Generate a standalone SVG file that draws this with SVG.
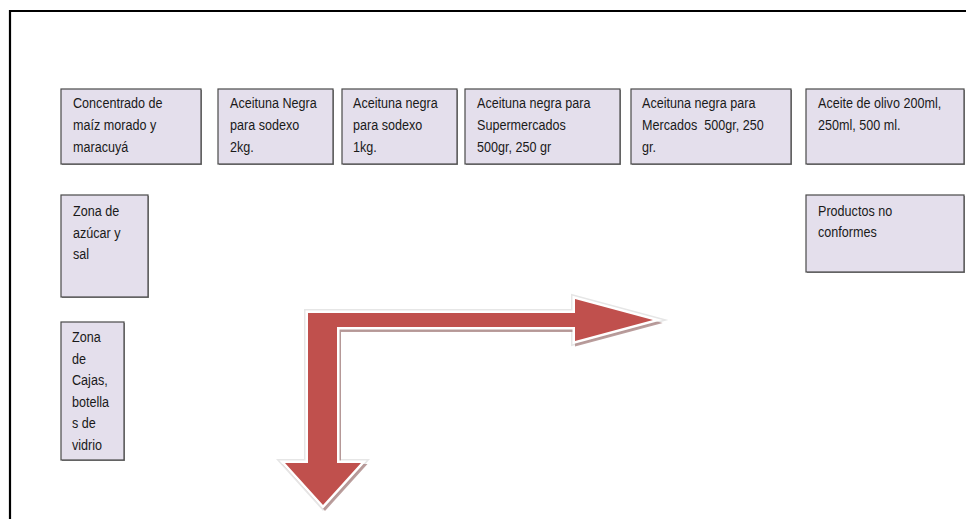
<svg xmlns="http://www.w3.org/2000/svg" width="966" height="519" viewBox="0 0 966 519">
<defs>
<style>
.box{fill:#e4dfec;stroke:#4a4a4a;stroke-width:1.2}
.sh{fill:#8a8a8a}
.t{font-family:"Liberation Sans",Arial,sans-serif;font-size:15px;fill:#1a1a1a}
</style>
<polygon id="arrowShape" points="323,505 285,463 308,463 308,313 575,313 575,299 653,320 575,341 575,327 337,327 337,463 361,463"/>
</defs>
<rect width="966" height="519" fill="#ffffff"/>
<g id="page-border" stroke="#000" stroke-width="2.2" fill="none">
<line x1="9" y1="11" x2="966" y2="11"/>
<line x1="10" y1="10" x2="10" y2="519"/>
</g>
<g id="connectors">
<use href="#arrowShape" fill="none" stroke="#e6e6e6" stroke-width="8" stroke-linejoin="miter"/>
<use href="#arrowShape" transform="translate(2,3)" fill="#a07a79" stroke="#a98584" stroke-width="4" opacity="0.8"/>
<use href="#arrowShape" fill="#c0504d" stroke="#ffffff" stroke-width="5" stroke-linejoin="miter" paint-order="stroke"/>
</g>
<g id="n1"><rect class="sh" x="62" y="90" width="140" height="75"/><rect class="box" x="61" y="89" width="140" height="75"/>
<text class="t" transform="matrix(0.84 0 0 1 73 0)"><tspan x="0" y="108">Concentrado de</tspan><tspan x="0" y="130">maíz morado y</tspan><tspan x="0" y="152">maracuyá</tspan></text></g>
<g id="n2"><rect class="sh" x="219" y="90" width="115" height="75"/><rect class="box" x="218" y="89" width="115" height="75"/>
<text class="t" transform="matrix(0.84 0 0 1 230 0)"><tspan x="0" y="108">Aceituna Negra</tspan><tspan x="0" y="130">para sodexo</tspan><tspan x="0" y="152">2kg.</tspan></text></g>
<g id="n3"><rect class="sh" x="343" y="90" width="115" height="75"/><rect class="box" x="342" y="89" width="115" height="75"/>
<text class="t" transform="matrix(0.84 0 0 1 353 0)"><tspan x="0" y="108">Aceituna negra</tspan><tspan x="0" y="130">para sodexo</tspan><tspan x="0" y="152">1kg.</tspan></text></g>
<g id="n4"><rect class="sh" x="466" y="90" width="155" height="75"/><rect class="box" x="465" y="89" width="155" height="75"/>
<text class="t" transform="matrix(0.84 0 0 1 477 0)"><tspan x="0" y="108">Aceituna negra para</tspan><tspan x="0" y="130">Supermercados</tspan><tspan x="0" y="152">500gr, 250 gr</tspan></text></g>
<g id="n5"><rect class="sh" x="632" y="90" width="160" height="75"/><rect class="box" x="631" y="89" width="160" height="75"/>
<text class="t" xml:space="preserve" transform="matrix(0.84 0 0 1 642 0)"><tspan x="0" y="108">Aceituna negra para</tspan><tspan x="0" y="130">Mercados  500gr, 250</tspan><tspan x="0" y="152">gr.</tspan></text></g>
<g id="n6"><rect class="sh" x="807" y="90" width="158" height="75"/><rect class="box" x="806" y="89" width="158" height="75"/>
<text class="t" transform="matrix(0.84 0 0 1 818 0)"><tspan x="0" y="108">Aceite de olivo 200ml,</tspan><tspan x="0" y="130">250ml, 500 ml.</tspan></text></g>
<g id="n7"><rect class="sh" x="62" y="196" width="87" height="102"/><rect class="box" x="61" y="195" width="87" height="102"/>
<text class="t" transform="matrix(0.84 0 0 1 73 0)"><tspan x="0" y="216">Zona de</tspan><tspan x="0" y="238">azúcar y</tspan><tspan x="0" y="259">sal</tspan></text></g>
<g id="n8"><rect class="sh" x="807" y="196" width="158" height="77"/><rect class="box" x="806" y="195" width="158" height="77"/>
<text class="t" transform="matrix(0.84 0 0 1 818 0)"><tspan x="0" y="216">Productos no</tspan><tspan x="0" y="237">conformes</tspan></text></g>
<g id="n9"><rect class="sh" x="62" y="323" width="63" height="138"/><rect class="box" x="61" y="322" width="63" height="138"/>
<text class="t" transform="matrix(0.84 0 0 1 72 0)"><tspan x="0" y="342">Zona</tspan><tspan x="0" y="364">de</tspan><tspan x="0" y="385">Cajas,</tspan><tspan x="0" y="407">botella</tspan><tspan x="0" y="428">s de</tspan><tspan x="0" y="450">vidrio</tspan></text></g>
</svg>
